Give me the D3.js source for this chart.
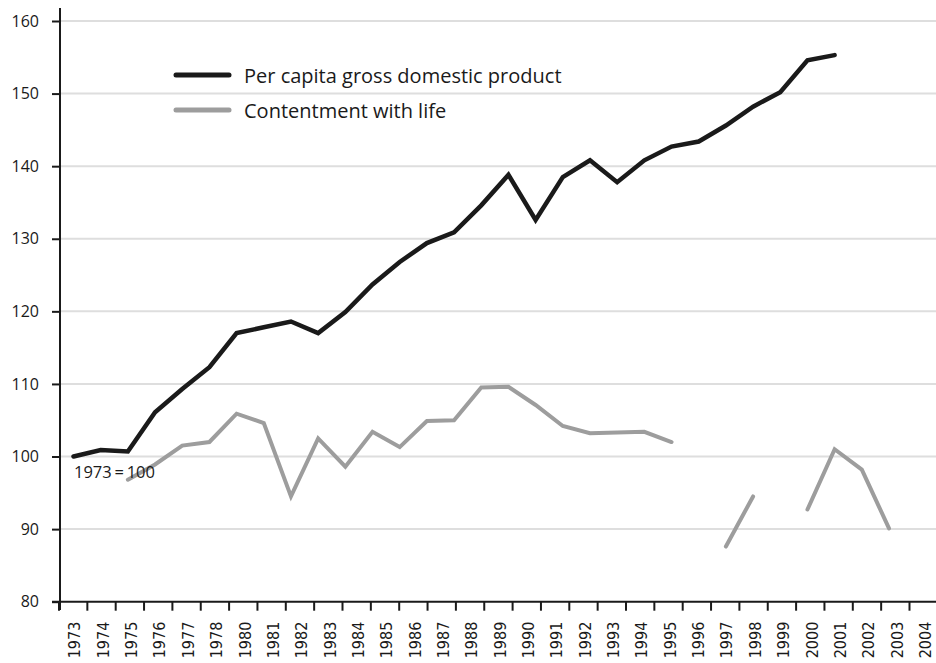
<!DOCTYPE html>
<html><head><meta charset="utf-8">
<script src="https://cdn.jsdelivr.net/npm/d3@7"></script>
<style>body{margin:0;background:#fff;overflow:hidden}svg{display:block}</style>
</head><body>
<svg id="c" width="936" height="663"></svg>
<script>
// ---- data ----
const years = d3.range(1973, 2004); // 1973..2003 data positions
const gdp = [100.0,100.9,100.7,106.1,109.3,112.3,117.0,117.8,118.6,117.0,119.9,123.7,126.8,129.4,130.9,134.6,138.8,132.6,138.5,140.8,137.8,140.8,142.7,143.4,145.6,148.2,150.2,154.6,155.3,null,null];
const contentment = [null,null,96.8,98.9,101.5,102.0,105.9,104.6,94.5,102.5,98.6,103.4,101.3,104.9,105.0,109.5,109.6,107.1,104.2,103.2,103.3,103.4,102.0,null,87.6,94.5,null,92.7,101.0,98.2,90.1];
const xLabels = ["1973","1974","1975","1976","1977","1978","1980","1981","1982","1983","1984","1985","1986","1987","1988","1989","1990","1991","1992","1993","1994","1995","1996","1997","1998","1999","2000","2001","2002","2003","2004"];
const yTicks = [80,90,100,110,120,130,140,150,160];
const seriesNames = ["Per capita gross domestic product","Contentment with life"];
const baseNote = "1973\u2009=\u2009100";

const svg = d3.select("#c");
const y = d3.scaleLinear().domain([80,160]).range([601.7,21]);
const x = d3.scaleLinear().domain([1973,2003]).range([73.5,889]);
const band = d3.scaleBand().domain(xLabels).range([59, 59+31*28.35]).paddingInner(0).paddingOuter(0);

// gridlines
svg.append("g").selectAll("line").data(yTicks.filter(t=>t>80)).join("line")
  .attr("x1",61).attr("x2",936).attr("y1",d=>y(d)).attr("y2",d=>y(d))
  .attr("stroke","#dedede").attr("stroke-width",2);

// y axis
const ya = svg.append("g").attr("transform","translate(60,0)")
  .call(d3.axisLeft(y).tickValues(yTicks).tickSize(8).tickPadding(13).tickFormat(d3.format("d")));
ya.select(".domain").remove();
ya.selectAll(".tick line").attr("stroke","#1a1a1a").attr("stroke-width",2);
ya.selectAll(".tick text").attr("font-family","Open Sans").attr("font-size",16).attr("fill","#1a1a1a");
svg.append("line").attr("x1",60).attr("x2",60).attr("y1",8).attr("y2",610)
  .attr("stroke","#1a1a1a").attr("stroke-width",2);

// x axis
svg.append("line").attr("x1",52).attr("x2",936).attr("y1",y(80)).attr("y2",y(80))
  .attr("stroke","#1a1a1a").attr("stroke-width",2);
svg.append("g").selectAll("line").data(xLabels).join("line")
  .attr("x1",d=>band(d)).attr("x2",d=>band(d)).attr("y1",y(80)).attr("y2",y(80)+9)
  .attr("stroke","#1a1a1a").attr("stroke-width",2);
svg.append("g").selectAll("text").data(xLabels).join("text")
  .attr("transform",d=>`translate(${band(d)+band.bandwidth()/2+1.5},${y(80)+20}) rotate(-90)`)
  .attr("text-anchor","end").attr("dy","0.36em")
  .attr("font-family","DejaVu Sans Condensed, DejaVu Sans").attr("font-stretch","condensed")
  .attr("font-size",16).attr("fill","#1a1a1a")
  .text(d=>d);

// lines
const line = d3.line().defined(d=>d[1]!=null).x(d=>x(d[0])).y(d=>y(d[1]));
svg.append("path").datum(years.map((yr,i)=>[yr,contentment[i]]))
  .attr("d",line).attr("fill","none").attr("stroke","#9d9d9d").attr("stroke-width",4)
  .attr("stroke-linejoin","miter").attr("stroke-linecap","round");
svg.append("path").datum(years.map((yr,i)=>[yr,gdp[i]]))
  .attr("d",line).attr("fill","none").attr("stroke","#1a1a1a").attr("stroke-width",4.5)
  .attr("stroke-linejoin","miter").attr("stroke-linecap","round");

// note
svg.append("text").attr("x",74).attr("y",478).attr("font-family","Open Sans")
  .attr("font-size",16.5).attr("fill","#1a1a1a").text(baseNote);

// legend
const leg = svg.append("g");
const lc = ["#1a1a1a","#9d9d9d"];
seriesNames.forEach((n,i)=>{
  const yy = 75 + i*35;
  leg.append("line").attr("x1",176).attr("x2",229).attr("y1",yy).attr("y2",yy)
    .attr("stroke",lc[i]).attr("stroke-width",5).attr("stroke-linecap","round");
  leg.append("text").attr("x",244).attr("y",yy+7.5).attr("font-family","Open Sans")
    .attr("font-size",20).attr("fill","#1a1a1a").text(n);
});
</script>
</body></html>
